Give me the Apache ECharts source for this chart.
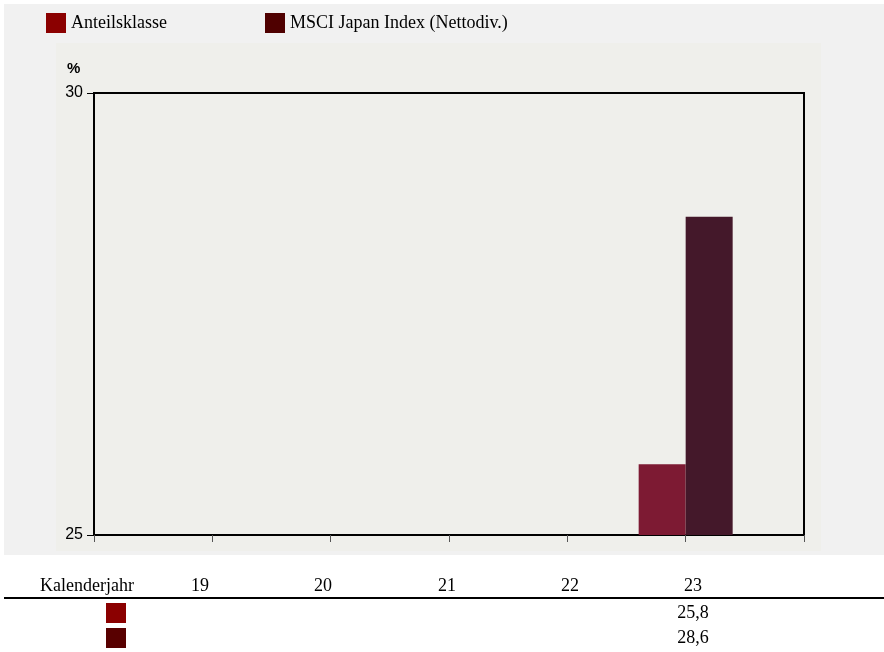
<!DOCTYPE html>
<html><head><meta charset="utf-8">
<script src="https://cdn.jsdelivr.net/npm/echarts@6/dist/echarts.min.js"></script>
<style>html,body{margin:0;padding:0;background:#fff}#c{width:884px;height:652px}</style>
</head><body><div id="c"></div>
<script>
const categories = ['', '19', '20', '21', '22', '23', ''];
const tableYears = ['19', '20', '21', '22', '23'];
const seriesNames = ['Anteilsklasse', 'MSCI Japan Index (Nettodiv.)'];
const anteilsklasse = [null, null, null, null, null, 25.8, null];
const msci = [null, null, null, null, null, 28.6, null];
const tableAnteil = ['', '', '', '', '25,8'];
const tableMsci = ['', '', '', '', '28,6'];
const yTicks = [25, 30];

const chart = echarts.init(document.getElementById('c'), null, {renderer: 'canvas'});
const serif = '"Liberation Serif", "Times New Roman", serif';
const sans = '"Liberation Sans", Arial, sans-serif';

const graphics = [
  {type: 'rect', z: -10, shape: {x: 4, y: 4, width: 880, height: 551}, style: {fill: '#f1f1f1'}},
  {type: 'rect', z: -9, shape: {x: 56, y: 43, width: 765, height: 508}, style: {fill: '#efefeb'}},
  {type: 'text', left: 67, top: 61, style: {text: '%', font: 'bold 15px ' + sans, fill: '#000'}},
  {type: 'text', x: 40, y: 586, style: {text: 'Kalenderjahr', font: '18px ' + serif, fill: '#000', verticalAlign: 'middle'}},
  {type: 'rect', shape: {x: 4, y: 597, width: 880, height: 2}, style: {fill: '#000'}},
  {type: 'rect', shape: {x: 106, y: 603, width: 20, height: 20}, style: {fill: '#8b0000'}},
  {type: 'rect', shape: {x: 106, y: 628, width: 20, height: 20}, style: {fill: '#580000'}}
];
const colX = [200, 323, 447, 570, 693];
tableYears.forEach((y, i) => {
  graphics.push({type: 'text', x: colX[i], y: 586, style: {text: y, font: '18px ' + serif, fill: '#000', align: 'center', verticalAlign: 'middle'}});
  if (tableAnteil[i]) graphics.push({type: 'text', x: colX[i], y: 613, style: {text: tableAnteil[i], font: '18px ' + serif, fill: '#000', align: 'center', verticalAlign: 'middle'}});
  if (tableMsci[i]) graphics.push({type: 'text', x: colX[i], y: 638, style: {text: tableMsci[i], font: '18px ' + serif, fill: '#000', align: 'center', verticalAlign: 'middle'}});
});

chart.setOption({
  animation: false,
  backgroundColor: '#ffffff',
  legend: {
    left: 41, top: 8, itemWidth: 20, itemHeight: 20, itemGap: 98,
    textStyle: {fontFamily: serif, fontSize: 18, color: '#000'},
    data: [
      {name: seriesNames[0], icon: 'rect', itemStyle: {color: '#8b0000'}},
      {name: seriesNames[1], icon: 'rect', itemStyle: {color: '#4f0000'}}
    ]
  },
  grid: {left: 94, top: 93, width: 710, height: 442, show: true, borderColor: '#000', borderWidth: 2, backgroundColor: 'transparent'},
  xAxis: {
    type: 'category', data: categories, boundaryGap: false,
    axisLine: {lineStyle: {color: '#000', width: 2}},
    axisTick: {show: true, length: 7, lineStyle: {color: '#555', width: 1}},
    axisLabel: {show: false},
    splitLine: {show: false}
  },
  yAxis: {
    type: 'value', min: 25, max: 30, interval: 5,
    axisLine: {show: true, lineStyle: {color: '#000', width: 2}},
    axisTick: {show: true, length: 7, lineStyle: {color: '#000', width: 1}},
    axisLabel: {color: '#000', fontFamily: sans, fontSize: 16, margin: 11},
    splitLine: {show: false}
  },
  series: [
    {name: seriesNames[0], type: 'bar', data: anteilsklasse, barWidth: 47, barGap: '0%', itemStyle: {color: '#7d1a33'}},
    {name: seriesNames[1], type: 'bar', data: msci, barWidth: 47, barGap: '0%', itemStyle: {color: '#44182a'}}
  ],
  graphic: graphics
});
</script></body></html>
